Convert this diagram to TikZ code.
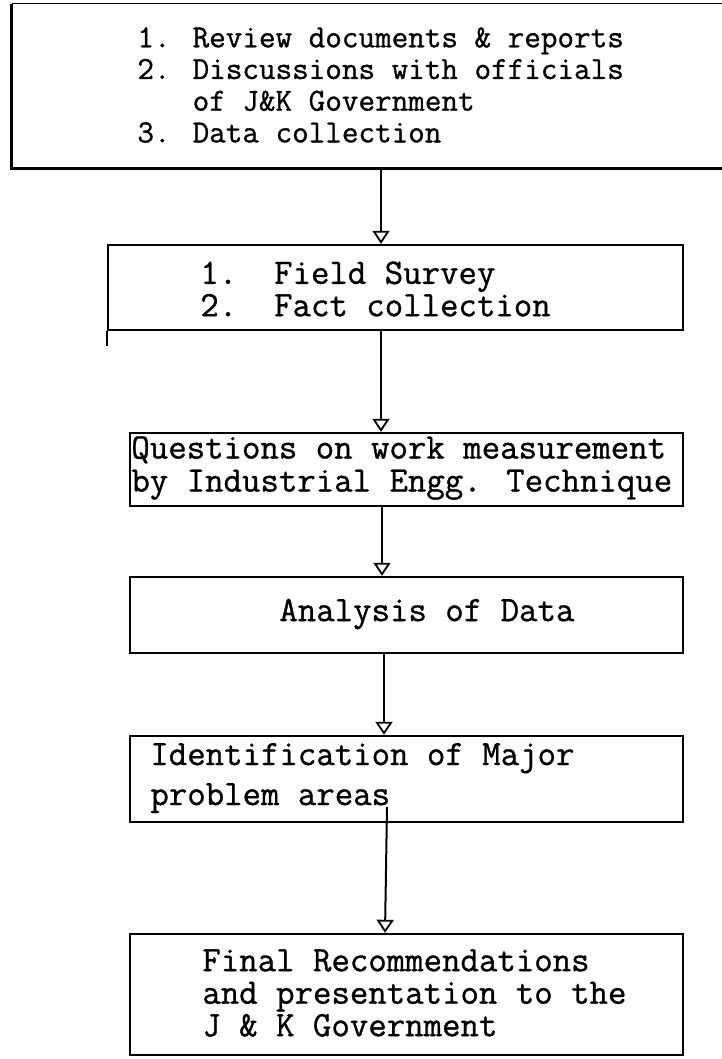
\documentclass[tikz,border=0pt]{standalone}
\usepackage{fontspec}
\usetikzlibrary{arrows.meta,fit}
\newfontfamily\typer{Latin Modern Mono}[FakeBold=0.9]
\tikzset{
  x=0.5pt, y=-0.5pt,
  frame/.style={draw, line width=1.2pt, inner sep=0pt},
  bare/.style={inner sep=0pt},
  small/.style={anchor=west, align=left, inner sep=0pt,
    font=\typer\fontsize{16.1}{15.85}\selectfont},
  large/.style={anchor=west, align=left, inner sep=0pt,
    font=\typer\fontsize{17.9}{#1}\selectfont},
  flow/.style={line width=1pt,
    -{Triangle[open, length=6.5pt, width=8.5pt, line width=0.9pt]}}
}
\begin{document}
\begin{tikzpicture}
\useasboundingbox (0,0) rectangle (722,1059);
\clip (0,0) rectangle (722,1059);

% boxes
\node[bare, fit={(12,4) (740,168)}] (b1) {};
\draw[line width=0.6pt] (b1.north west) -- (b1.north east);
\draw[line width=1.2pt] (b1.north west) -- (b1.south west) -- (b1.south east);

\node[frame, fit={(108,245) (683,330)}] (b2) {};
\draw[line width=1.2pt] (b2.south west) -- ++(0,15);
\node[frame, fit={(130,433) (683,506)}] (b3) {};
\node[frame, fit={(130,577) (683,653)}] (b4) {};
\node[frame, fit={(130,736) (683,822)}] (b5) {};
\node[frame, fit={(130,934) (683,1055)}] (b6) {};

% texts
\node[small] (t1) at (137,85)
  {1. Review documents \& reports\\
   2. Discussions with officials\\
   \phantom{2. }of J\&K Government\\
   3. Data collection};
\node[large=16.2] (t2) at (200,289)
  {1.\ \ Field Survey\\2.\ \ Fact collection};
\node[large=16.5] (t3) at (131,468)
  {Questions on work measurement\\by Industrial Engg. Technique};
\node[large=16] (t4) at (279,614) {Analysis of Data};
\node[large=20] (t5) at (150,778)
  {Identification of Major\\problem areas};
\node[large=16.25] (t6) at (202,993)
  {Final Recommendations\\and presentation to the\\J \& K Government};

% arrow lines
\coordinate (x1) at (381,0);
\coordinate (x2) at (381,0);
\coordinate (x3) at (382,0);
\coordinate (x4) at (384,0);
\coordinate (a5s) at (387,807);
\coordinate (a5e) at (385,934);
\draw[flow] (b1.south -| x1) -- (b2.north -| x1);
\draw[flow] (b2.south -| x2) -- (b3.north -| x2);
\draw[flow] (b3.south -| x3) -- (b4.north -| x3);
\draw[flow] (b4.south -| x4) -- (b5.north -| x4);
\draw[flow] (a5s) -- (b6.north -| a5e);
\end{tikzpicture}
\end{document}
